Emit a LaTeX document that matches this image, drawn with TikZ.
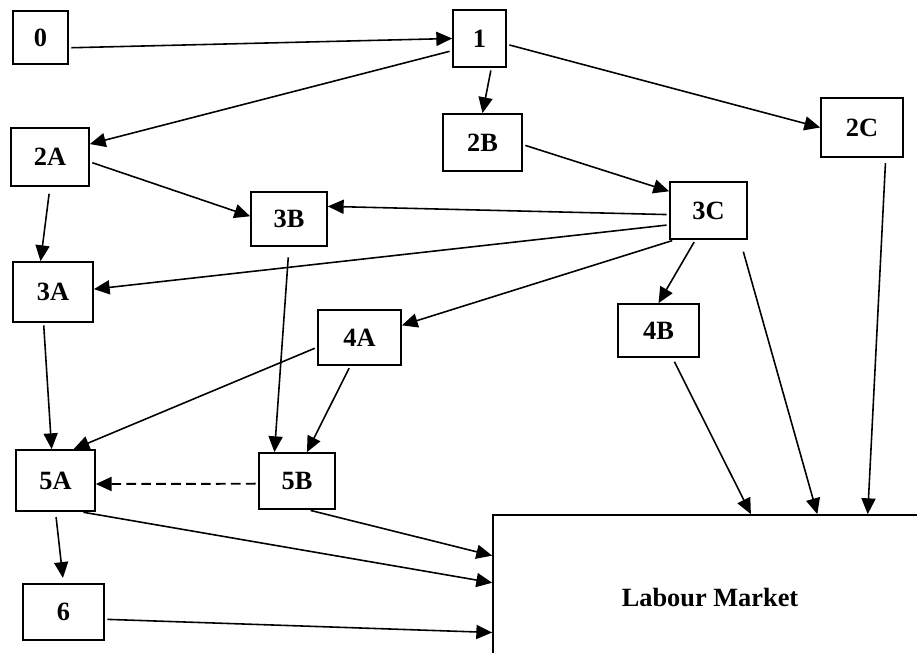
\documentclass[tikz,border=0pt]{standalone}
\usepackage{fontspec}
\setmainfont{Liberation Serif}
\usetikzlibrary{arrows.meta}
\begin{document}
\begin{tikzpicture}
[boxdecorate/.style={shape=rectangle,draw,line width=0.95pt,minimum width=1.6cm,minimum height=1.14cm,inner sep=0pt,font=\fontsize{15}{18}\selectfont\bfseries},%
  arrowdecorate/.style={-{Triangle[length=9pt,width=8pt]},line width=0.9pt,shorten <=1.5pt},%
  dashdecorate/.style={arrowdecorate,line width=1.1pt,dash pattern=on 5.5pt off 3pt}]
\useasboundingbox (0,0) rectangle (18.34,13.06);
\clip (0,0) rectangle (18.34,13.06);
%%% stages and the labour market
% nodes or boxes
\node (s0) at (0.81,12.31) [boxdecorate,minimum width=1.10cm,minimum height=1.06cm] {0};
\node (s1) at (9.59,12.29) [boxdecorate,minimum width=1.06cm] {1};
\node (s2a) at (1.00,9.92) [boxdecorate,minimum width=1.56cm,minimum height=1.16cm] {2A};
\node (s2b) at (9.65,10.21) [boxdecorate,minimum width=1.58cm] {2B};
\node (s2c) at (17.24,10.51) [boxdecorate,minimum width=1.64cm,minimum height=1.18cm] {2C};
\node (s3a) at (1.06,7.22) [boxdecorate,minimum height=1.20cm] {3A};
\node (s3b) at (5.78,8.68) [boxdecorate,minimum width=1.52cm,minimum height=1.08cm] {3B};
\node (s3c) at (14.17,8.85) [boxdecorate,minimum width=1.54cm] {3C};
\node (s4a) at (7.19,6.31) [boxdecorate,minimum width=1.66cm,minimum height=1.10cm] {4A};
\node (s4b) at (13.17,6.45) [boxdecorate,minimum width=1.62cm,minimum height=1.06cm] {4B};
\node (s5a) at (1.11,3.45) [boxdecorate,minimum width=1.58cm,minimum height=1.22cm] {5A};
\node (s5b) at (5.94,3.44) [boxdecorate,minimum width=1.52cm,minimum height=1.12cm] {5B};
\node (s6) at (1.27,0.82) [boxdecorate,minimum width=1.62cm,minimum height=1.12cm] {6};
\node (lm) at (14.20,1.10) [boxdecorate,minimum width=8.68cm,minimum height=3.32cm] {Labour Market};
% edges or arrows
\path
(s0.-20) edge[arrowdecorate] (s1.west)
(s1.-156) edge[arrowdecorate] (s2a.18)
(s1.-68) edge[arrowdecorate] (s2b.north)
(s1.-12) edge[arrowdecorate] (s2c.west)
(s2a.-7) edge[arrowdecorate] (s3b.176)
(s2a.south) edge[arrowdecorate,shorten <=4pt] (s3a.112)
(s2b.-3) edge[arrowdecorate] (s3c.154)
(s3c.186) edge[arrowdecorate] (s3b.18)
(s3c.200) edge[arrowdecorate] (s3a.4)
(s3c.221) edge[arrowdecorate] (s4a.16)
(s3c.246) edge[arrowdecorate] (s4b.north)
(s3c.-43) edge[arrowdecorate,shorten <=7pt] (lm.38)
(s2c.-52) edge[arrowdecorate,shorten <=3pt] (lm.28)
(s4b.-63) edge[arrowdecorate,shorten <=2.5pt] (lm.64)
(s3b.south) edge[arrowdecorate,shorten <=6pt] (s5b.128)
(s4a.193) edge[arrowdecorate] (s5a.60)
(s4a.252) edge[arrowdecorate] (s5b.71)
(s3a.253) edge[arrowdecorate] (s5a.97)
(s5b.184) edge[dashdecorate] (s5a.-5)
(s5a.south) edge[arrowdecorate,shorten <=3pt,shorten >=3pt] (s6.north)
(s5a.-51) edge[arrowdecorate] (lm.176.6)
(s5b.-69) edge[arrowdecorate] (lm.169.6)
(s6.-10) edge[arrowdecorate] (lm.-171.5);
\end{tikzpicture}
\end{document}
